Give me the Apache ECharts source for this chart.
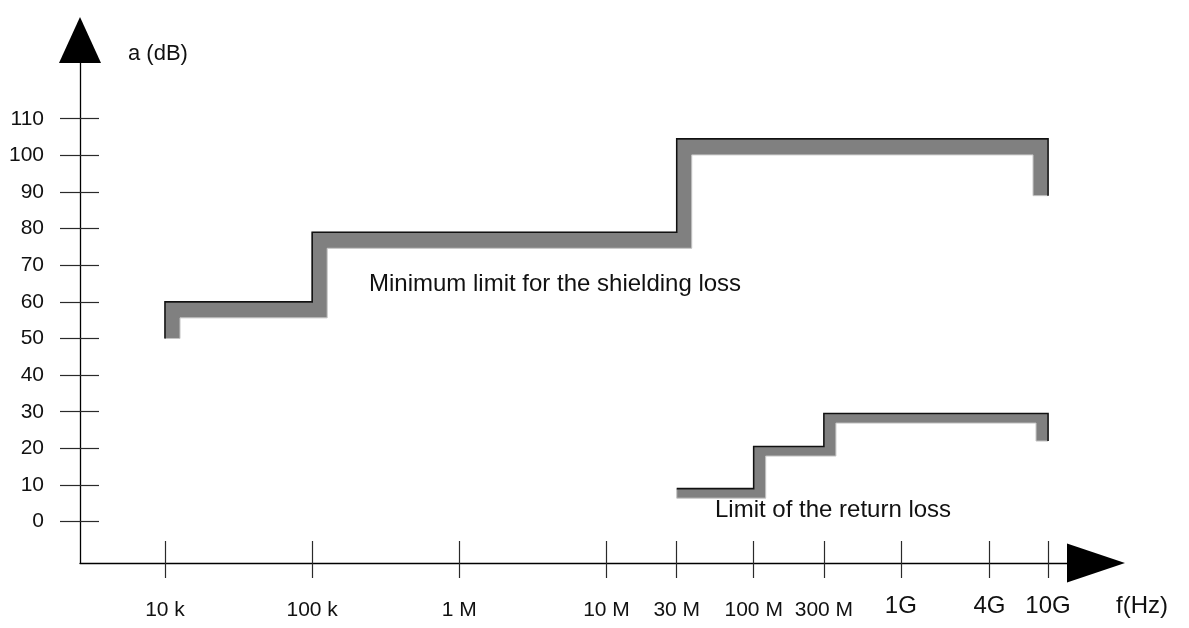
<!DOCTYPE html>
<html>
<head>
<meta charset="utf-8">
<script src="https://cdn.jsdelivr.net/npm/echarts@6/dist/echarts.min.js"></script>
<style>
  html, body { margin: 0; padding: 0; background: #fff; }
  #chart { width: 1189px; height: 628px; }
</style>
</head>
<body>
<div id="chart"></div>
<script>
// Frequency axis ticks (Hz) and their labels
const freqTicks = [1e4, 1e5, 1e6, 1e7, 3e7, 1e8, 3e8, 1e9, 4e9, 1e10];
const freqTickLabels = ['10 k', '100 k', '1 M', '10 M', '30 M', '100 M', '300 M', '1G', '4G', '10G'];

// Attenuation axis ticks (dB)
const dbTicks = [0, 10, 20, 30, 40, 50, 60, 70, 80, 90, 100, 110];

// Step limits as [frequency Hz, attenuation dB] corner points
const shieldingLimit = [[1e4, 50], [1e4, 60], [1e5, 60], [1e5, 79], [3e7, 79], [3e7, 104.5], [1e10, 104.5], [1e10, 89]];
const returnLossLimit = [[3e7, 9], [1e8, 9], [1e8, 20.5], [3e8, 20.5], [3e8, 29.5], [1e10, 29.5], [1e10, 22]];

const seriesNames = ['Minimum limit for the shielding loss', 'Limit of the return loss'];

const FONT = '"Liberation Sans", Arial, Helvetica, sans-serif';
const X_MIN = 2645, X_MAX = 2.118e10;
const Y_MIN = -11.3, Y_MAX = 131.5;

// A stepped limit drawn as a grey band lying on the right-hand side of the
// travel direction, with a thin dark edge along the limit itself.
function stepBandSeries(name, points, bandH, bandV) {
  return {
    name: name,
    type: 'custom',
    coordinateSystem: 'cartesian2d',
    clip: false,
    silent: true,
    data: points,
    encode: { x: 0, y: 1 },
    renderItem: function (params, api) {
      if (params.dataIndex !== 0) return null;
      const px = points.map(function (p) { return api.coord(p); });
      const offs = [];
      for (let i = 0; i < px.length - 1; i++) {
        const dx = px[i + 1][0] - px[i][0];
        const dy = px[i + 1][1] - px[i][1];
        const len = Math.hypot(dx, dy) || 1;
        const t = Math.abs(dx) >= Math.abs(dy) ? bandH : bandV;
        offs.push([-dy / len * t, dx / len * t]);
      }
      const inner = px.map(function (p, i) {
        if (i === 0) return [p[0] + offs[0][0], p[1] + offs[0][1]];
        if (i === px.length - 1) return [p[0] + offs[i - 1][0], p[1] + offs[i - 1][1]];
        const a = offs[i - 1], b = offs[i];
        if (Math.abs(a[0] - b[0]) < 1e-9 && Math.abs(a[1] - b[1]) < 1e-9) {
          return [p[0] + a[0], p[1] + a[1]];
        }
        return [p[0] + a[0] + b[0], p[1] + a[1] + b[1]];
      });
      return {
        type: 'group',
        children: [
          {
            type: 'polygon',
            shape: { points: px.concat(inner.slice().reverse()) },
            style: { fill: '#808080', stroke: '#c4c4c4', lineWidth: 1 }
          },
          {
            type: 'polyline',
            shape: { points: px },
            style: { stroke: '#111', lineWidth: 1.6, fill: null }
          }
        ]
      };
    }
  };
}

function freqLabel(val) {
  for (let i = 0; i < freqTicks.length; i++) {
    const f = freqTicks[i];
    if (Math.abs(val - f) / f < 1e-6 || Math.abs(val - Math.log10(f)) < 1e-6) {
      const t = freqTickLabels[i];
      return /G$/.test(t) ? '{g|' + t + '}' : '{s|' + t + '}';
    }
  }
  return '';
}

const axisColor = '#000';
const tickStyle = { color: '#2a2a2a', width: 1.2 };

const xBase = {
  type: 'log',
  min: X_MIN,
  max: X_MAX,
  position: 'bottom',
  splitLine: { show: false },
  minorTick: { show: false },
  minorSplitLine: { show: false }
};
const yBase = {
  type: 'value',
  min: Y_MIN,
  max: Y_MAX,
  position: 'left',
  splitLine: { show: false },
  minorTick: { show: false }
};

const option = {
  animation: false,
  backgroundColor: '#fff',
  grid: { left: 80, right: 93, top: 40, bottom: 65, containLabel: false },
  xAxis: [
    Object.assign({}, xBase, {
      axisLine: {
        show: true, onZero: false,
        lineStyle: { color: axisColor, width: 1.3 },
        symbol: ['none', 'triangle'], symbolSize: [39, 58]
      },
      axisTick: { show: true, inside: false, length: 15, customValues: freqTicks, lineStyle: tickStyle },
      axisLabel: {
        show: true, customValues: freqTicks, margin: 31, hideOverlap: false,
        formatter: freqLabel,
        rich: {
          s: { fontSize: 21, fontFamily: FONT, color: '#111', padding: [6, 0, 0, 0] },
          g: { fontSize: 24, fontFamily: FONT, color: '#111' }
        }
      },
      name: 'f(Hz)',
      nameLocation: 'end',
      nameGap: 20,
      nameTextStyle: {
        fontSize: 24, fontFamily: FONT, color: '#111',
        align: 'left', verticalAlign: 'top', padding: [31, 0, 0, 0]
      }
    }),
    Object.assign({}, xBase, {
      axisLine: { show: false, onZero: false },
      axisTick: { show: true, inside: true, length: 22, customValues: freqTicks, lineStyle: tickStyle },
      axisLabel: { show: false }
    })
  ],
  yAxis: [
    Object.assign({}, yBase, {
      axisLine: {
        show: true, onZero: false,
        lineStyle: { color: axisColor, width: 1.3 },
        symbol: ['none', 'triangle'], symbolSize: [42, 46]
      },
      axisTick: { show: true, inside: false, length: 20, customValues: dbTicks, lineStyle: tickStyle },
      axisLabel: {
        show: true, customValues: dbTicks, margin: 36,
        fontSize: 21, fontFamily: FONT, color: '#111',
        padding: [0, 0, 8, 0]
      },
      name: 'a (dB)',
      nameLocation: 'end',
      nameGap: -14,
      nameTextStyle: {
        fontSize: 22, fontFamily: FONT, color: '#111',
        align: 'left', verticalAlign: 'middle', padding: [0, 0, 0, 48]
      }
    }),
    Object.assign({}, yBase, {
      axisLine: { show: false, onZero: false },
      axisTick: { show: true, inside: true, length: 19, customValues: dbTicks, lineStyle: tickStyle },
      axisLabel: { show: false }
    })
  ],
  graphic: [
    {
      type: 'text', left: 369, top: 272, silent: true,
      style: { text: seriesNames[0], font: '24px ' + FONT, fill: '#111' }
    },
    {
      type: 'text', left: 715, top: 498, silent: true,
      style: { text: seriesNames[1], font: '24px ' + FONT, fill: '#111' }
    }
  ],
  series: [
    stepBandSeries(seriesNames[0], shieldingLimit, 16, 15),
    stepBandSeries(seriesNames[1], returnLossLimit, 9.5, 12)
  ]
};

const chart = echarts.init(document.getElementById('chart'), null, { renderer: 'canvas' });
chart.setOption(option);
</script>
</body>
</html>
